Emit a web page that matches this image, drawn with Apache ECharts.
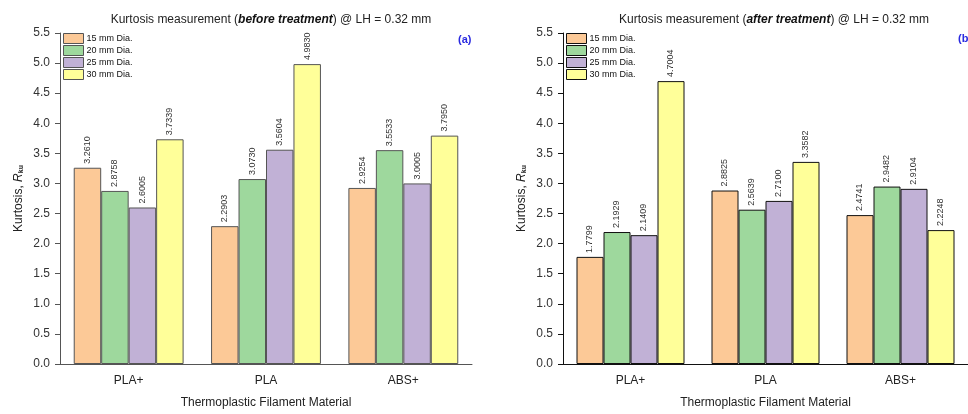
<!DOCTYPE html>
<html>
<head>
<meta charset="utf-8">
<script src="https://cdn.jsdelivr.net/npm/echarts@6/dist/echarts.min.js"></script>
<style>
  html, body { margin: 0; padding: 0; background: #fff; }
  #chart { width: 968px; height: 414px; }
</style>
</head>
<body>
<div id="chart"></div>
<script>
// Filament materials on the category axis
const materials = ['PLA+', 'PLA', 'ABS+'];
// Nozzle diameters (one series each)
const diameters = ['15 mm Dia.', '20 mm Dia.', '25 mm Dia.', '30 mm Dia.'];

// Kurtosis values before treatment, per diameter, in material order
const before15 = [3.2610, 2.2903, 2.9254];
const before20 = [2.8758, 3.0730, 3.5533];
const before25 = [2.6005, 3.5604, 3.0005];
const before30 = [3.7339, 4.9830, 3.7950];

// Kurtosis values after treatment
const after15 = [1.7799, 2.8825, 2.4741];
const after20 = [2.1929, 2.5639, 2.9482];
const after25 = [2.1409, 2.7100, 2.9104];
const after30 = [4.7004, 3.3582, 2.2248];

const beforeSets = [before15, before20, before25, before30];
const afterSets = [after15, after20, after25, after30];

const fills = ['#FCC997', '#9ED89D', '#C1B1D6', '#FFFF99'];
const FONT = '"Liberation Sans", Arial, sans-serif';

function buildAxes(idx, lineColor) {
  const x = {
    type: 'category',
    gridIndex: idx,
    data: materials,
    axisLine: { lineStyle: { color: lineColor, width: 1 } },
    axisTick: { alignWithLabel: true, length: 5, lineStyle: { color: lineColor } },
    axisLabel: { color: '#222', fontSize: 12, fontFamily: FONT, margin: 11 },
    name: 'Thermoplastic Filament Material',
    nameLocation: 'middle',
    nameGap: 33,
    nameTextStyle: { color: '#222', fontSize: 12, fontFamily: FONT }
  };
  const y = {
    type: 'value',
    gridIndex: idx,
    min: 0, max: 5.5, interval: 0.5,
    splitLine: { show: false },
    axisLine: { show: true, lineStyle: { color: lineColor, width: 1 } },
    axisTick: { show: true, length: 5, lineStyle: { color: lineColor } },
    axisLabel: {
      color: '#333', fontSize: 12, fontFamily: FONT, margin: 10,
      formatter: v => v.toFixed(1)
    },
    name: '{n|Kurtosis, }{r|R}{s|ku}',
    nameLocation: 'middle',
    nameGap: 35,
    nameRotate: 90,
    nameTextStyle: {
      fontFamily: FONT,
      rich: {
        n: { fontSize: 12, color: '#222', fontFamily: FONT },
        r: { fontSize: 12, color: '#222', fontStyle: 'italic', fontFamily: FONT },
        s: { fontSize: 7, color: '#222', fontWeight: 'bold', fontFamily: FONT, verticalAlign: 'bottom', padding: [6, 0, 0, 0] }
      }
    }
  };
  return { x, y };
}

function buildSeries(idx, sets, edge) {
  return sets.map((vals, i) => ({
    name: diameters[i],
    type: 'bar',
    xAxisIndex: idx,
    yAxisIndex: idx,
    data: vals,
    barGap: '0%',
    barCategoryGap: '20%',
    itemStyle: { color: fills[i], borderColor: edge, borderWidth: 1 },
    label: {
      show: true,
      position: 'top',
      rotate: 90,
      align: 'left',
      verticalAlign: 'middle',
      distance: 4,
      fontSize: 9,
      fontFamily: FONT,
      color: '#333',
      formatter: p => p.value.toFixed(4)
    },
    emphasis: { disabled: true }
  }));
}

const axA = buildAxes(0, '#555');
const axB = buildAxes(1, '#111');

function legendAt(left, edge) {
  return {
    orient: 'vertical',
    left: left,
    top: 33,
    itemWidth: 20,
    itemHeight: 10,
    itemGap: 1,
    padding: 0,
    icon: 'rect',
    data: diameters,
    itemStyle: { borderColor: edge, borderWidth: 1 },
    textStyle: { fontSize: 9, fontFamily: FONT, color: '#111', padding: [0, 0, 0, -2] },
    selectedMode: false
  };
}

function titleAt(centerX, label) {
  return {
    text: '{n|Kurtosis measurement (}{b|' + label + '}{n|) @ LH = 0.32 mm}',
    left: centerX,
    textAlign: 'center',
    top: 9,
    textStyle: {
      fontFamily: FONT,
      fontWeight: 'normal',
      rich: {
        n: { fontSize: 12, color: '#222', fontFamily: FONT, fontWeight: 'normal' },
        b: { fontSize: 12, color: '#111', fontFamily: FONT, fontWeight: 'bold', fontStyle: 'italic' }
      }
    }
  };
}

const chart = echarts.init(document.getElementById('chart'), null, { renderer: 'canvas' });
chart.setOption({
  animation: false,
  backgroundColor: '#fff',
  title: [titleAt(266, 'before treatment'), titleAt(769, 'after treatment')],
  legend: [legendAt(63, '#555'), legendAt(566, '#111')],
  grid: [
    { left: 60, top: 33, width: 412, height: 333 },
    { left: 563, top: 33, width: 412, height: 333 }
  ],
  xAxis: [axA.x, axB.x],
  yAxis: [axA.y, axB.y],
  series: buildSeries(0, beforeSets, '#555').concat(buildSeries(1, afterSets, '#111')),
  graphic: [
    { type: 'text', left: 458, top: 34, style: { text: '(a)', fill: '#2a2ae0', font: 'bold 11px ' + FONT } },
    { type: 'text', left: 958, top: 33, style: { text: '(b)', fill: '#2a2ae0', font: 'bold 11px ' + FONT } }
  ]
});
</script>
</body>
</html>
